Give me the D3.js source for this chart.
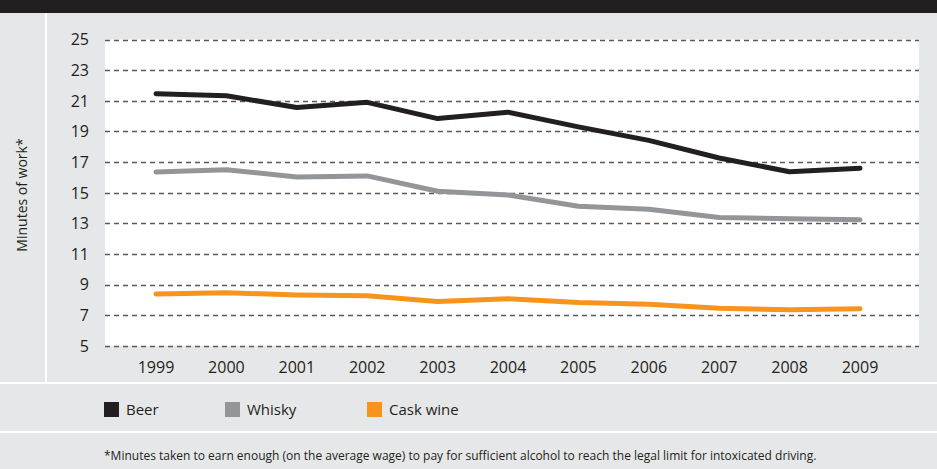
<!DOCTYPE html>
<html>
<head>
<meta charset="utf-8">
<script src="https://cdn.jsdelivr.net/npm/d3@7"></script>
<style>
  body { margin: 0; background: #e6e7e8; }
  svg { display: block; font-family: "Open Sans", "Noto Sans", sans-serif; }
</style>
</head>
<body>
<svg id="chart" width="937" height="469"></svg>
<script>
// Values
const years = [1999, 2000, 2001, 2002, 2003, 2004, 2005, 2006, 2007, 2008, 2009];
const beer = [21.46, 21.33, 20.56, 20.9, 19.84, 20.26, 19.3, 18.42, 17.27, 16.37, 16.6];
const whisky = [16.35, 16.5, 16.03, 16.1, 15.1, 14.85, 14.12, 13.93, 13.38, 13.3, 13.24];
const caskWine = [8.39, 8.48, 8.33, 8.28, 7.9, 8.08, 7.84, 7.72, 7.46, 7.37, 7.43];
const yTicks = [5, 7, 9, 11, 13, 15, 17, 19, 21, 23, 25];

const series = [
    { name: "Beer", values: beer, color: "#231f20" },
    { name: "Whisky", values: whisky, color: "#939598" },
    { name: "Cask wine", values: caskWine, color: "#f7941d" }
];

const svg = d3.select("#chart");
const W = 937, H = 469;

// Background and frame pieces
svg.append("rect").attr("width", W).attr("height", H).attr("fill", "#e6e7e8");
svg.append("rect").attr("width", W).attr("height", 13).attr("fill", "#231f20");
svg.append("rect").attr("x", 45).attr("y", 13).attr("width", 2).attr("height", 370).attr("fill", "#fff");
svg.append("rect").attr("x", 0).attr("y", 382).attr("width", W).attr("height", 2).attr("fill", "#fff");
svg.append("rect").attr("x", 0).attr("y", 431).attr("width", W).attr("height", 2).attr("fill", "#fff");

// Plot area
const plot = { left: 105, right: 919, top: 39.5, bottom: 346 };
svg.append("rect")
    .attr("x", plot.left).attr("y", plot.top)
    .attr("width", plot.right - plot.left).attr("height", plot.bottom - plot.top)
    .attr("fill", "#fff");

const x = d3.scaleLinear().domain([1999, 2009]).range([156, 860]);
const y = d3.scaleLinear().domain([5, 25]).range([plot.bottom, plot.top]);

// Gridlines
svg.append("g").selectAll("line")
    .data(yTicks)
    .enter()
    .append("line")
    .attr("x1", plot.left).attr("x2", plot.right)
    .attr("y1", d => Math.round(y(d)) + 0.5).attr("y2", d => Math.round(y(d)) + 0.5)
    .attr("stroke", "#58595b")
    .attr("stroke-width", 1.3)
    .attr("stroke-dasharray", "5,4");

// Y tick labels
svg.append("g").selectAll("text")
    .data(yTicks)
    .enter()
    .append("text")
    .attr("x", 89)
    .attr("y", d => y(d))
    .attr("dy", "0.36em")
    .attr("text-anchor", "end")
    .attr("font-size", 16)
    .attr("fill", "#231f20")
    .text(d => d);

// X tick labels
svg.append("g").selectAll("text")
    .data(years)
    .enter()
    .append("text")
    .attr("x", d => x(d))
    .attr("y", 373)
    .attr("text-anchor", "middle")
    .attr("font-size", 16)
    .attr("fill", "#231f20")
    .text(d => d);

// Y axis title
svg.append("text")
    .attr("transform", "translate(27,195) rotate(-90)")
    .attr("text-anchor", "middle")
    .attr("font-size", 14)
    .attr("fill", "#231f20")
    .text("Minutes of work*");

// Lines
const line = d3.line()
    .x((d, i) => x(years[i]))
    .y(d => y(d));

svg.append("g").selectAll("path")
    .data(series)
    .enter()
    .append("path")
    .attr("d", d => line(d.values))
    .attr("fill", "none")
    .attr("stroke", d => d.color)
    .attr("stroke-width", 5)
    .attr("stroke-linecap", "round")
    .attr("stroke-linejoin", "round");

// Legend
const legendX = [104, 225, 367];
const legend = svg.append("g").selectAll("g")
    .data(series)
    .enter()
    .append("g")
    .attr("transform", (d, i) => `translate(${legendX[i]},402)`);
legend.append("rect")
    .attr("width", 15).attr("height", 15)
    .attr("fill", d => d.color);
legend.append("text")
    .attr("x", 22).attr("y", 7.5)
    .attr("dy", "0.36em")
    .attr("font-size", 15)
    .attr("fill", "#231f20")
    .text(d => d.name);

// Footnote
svg.append("text")
    .attr("x", 104)
    .attr("y", 460)
    .attr("font-size", 12)
    .attr("fill", "#231f20")
    .text("*Minutes taken to earn enough (on the average wage) to pay for sufficient alcohol to reach the legal limit for intoxicated driving.");
</script>
</body>
</html>
